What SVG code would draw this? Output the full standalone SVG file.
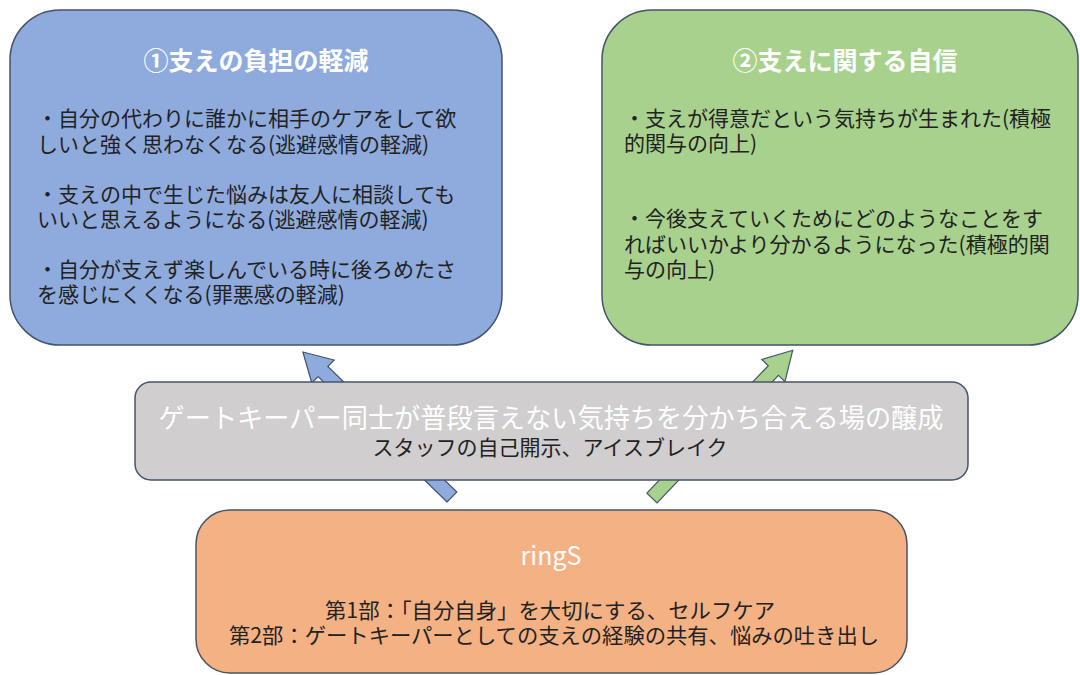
<svg xmlns="http://www.w3.org/2000/svg" width="1080" height="675" viewBox="0 0 1080 675">
<defs>
<style>
.box{stroke:#44546a;stroke-width:1.5}
.title{font-family:"Noto Sans CJK JP","Noto Sans",sans-serif;font-weight:bold;fill:#ffffff;font-size:25px;text-anchor:middle}
.body{font-family:"Noto Sans CJK JP","Noto Sans",sans-serif;fill:#222222;font-size:21px}
.mid{text-anchor:middle}
.arrow{stroke:#44546a;stroke-width:1.2}
</style>
</defs>
<rect width="1080" height="675" fill="#ffffff"/>
<g id="connectors">
<path class="arrow" fill="#8faadc" transform="translate(452,497) rotate(-135.8)" d="M0,-7 L180,-7 L180,-16 L208,0 L180,16 L180,7 L0,7 Z"/>
<path class="arrow" fill="#a9d18e" transform="translate(652,498) rotate(-46.4)" d="M0,-7 L176,-7 L176,-16 L204,0 L176,16 L176,7 L0,7 Z"/>
</g>
<g id="node-blue">
<rect class="box" x="10" y="10" width="492" height="335" rx="50" fill="#8faadc"/>
<text class="title" x="256" y="70">①支えの負担の軽減</text>
<text class="body"><tspan x="37" y="126">・自分の代わりに誰かに相手のケアをして欲</tspan><tspan x="37" y="152">しいと強く思わなくなる(逃避感情の軽減)</tspan></text>
<text class="body"><tspan x="37" y="202">・支えの中で生じた悩みは友人に相談しても</tspan><tspan x="37" y="227">いいと思えるようになる(逃避感情の軽減)</tspan></text>
<text class="body"><tspan x="37" y="277">・自分が支えず楽しんでいる時に後ろめたさ</tspan><tspan x="37" y="302">を感じにくくなる(罪悪感の軽減)</tspan></text>
</g>
<g id="node-green">
<rect class="box" x="602" y="10" width="476" height="335" rx="50" fill="#a9d18e"/>
<text class="title" x="845" y="70">②支えに関する自信</text>
<text class="body"><tspan x="624" y="126">・支えが得意だという気持ちが生まれた(積極</tspan><tspan x="624" y="151">的関与の向上)</tspan></text>
<text class="body"><tspan x="624" y="226">・今後支えていくためにどのようなことをす</tspan><tspan x="624" y="252">ればいいかより分かるようになった(積極的関</tspan><tspan x="624" y="277">与の向上)</tspan></text>
</g>
<g id="node-gray">
<rect class="box" x="135" y="382" width="833" height="98" rx="16" fill="#d0cece"/>
<text class="title" x="551" y="428" style="font-weight:normal;font-size:27px" textLength="785" lengthAdjust="spacingAndGlyphs">ゲートキーパー同士が普段言えない気持ちを分かち合える場の醸成</text>
<text class="body mid" x="550" y="455" textLength="355" lengthAdjust="spacingAndGlyphs">スタッフの自己開示、アイスブレイク</text>
</g>
<g id="node-orange">
<rect class="box" x="196" y="510" width="711" height="163" rx="34" fill="#f4b183"/>
<text class="title" x="551" y="565" style="font-weight:normal;font-size:25px">ringS</text>
<text class="body mid"><tspan x="550" y="618" textLength="450" lengthAdjust="spacingAndGlyphs">第1部：「自分自身」を大切にする、セルフケア</tspan><tspan x="554" y="643" textLength="650" lengthAdjust="spacingAndGlyphs">第2部：ゲートキーパーとしての支えの経験の共有、悩みの吐き出し</tspan></text>
</g>
</svg>
